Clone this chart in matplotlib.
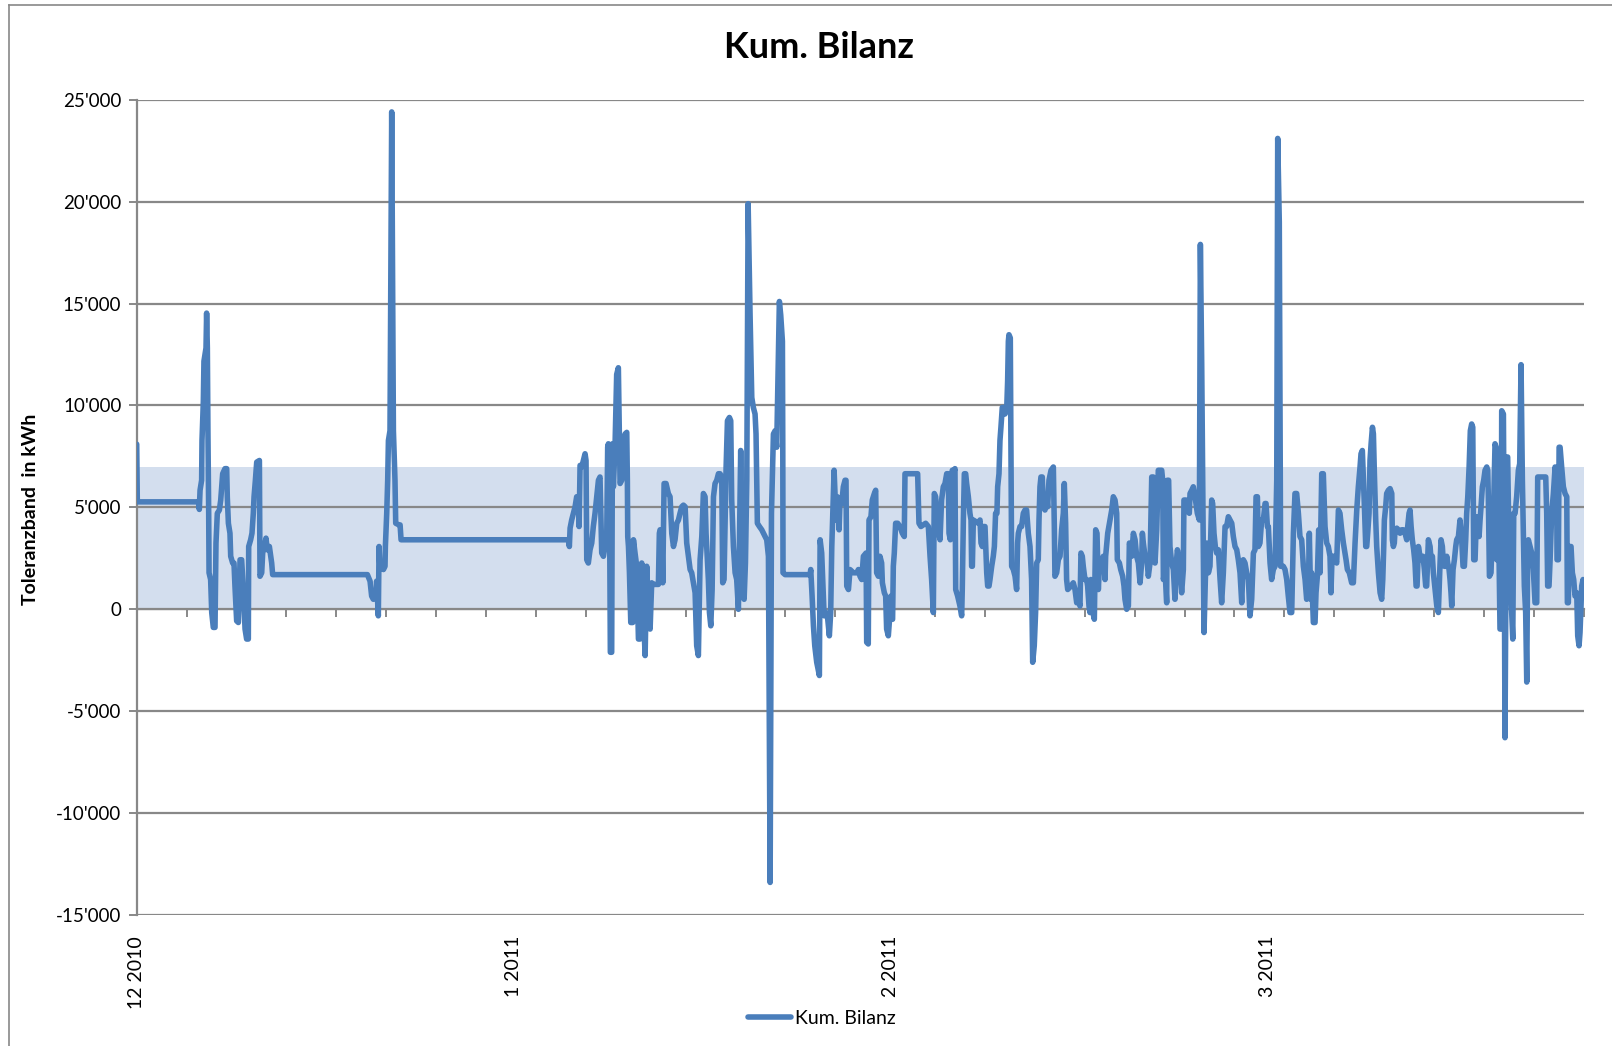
import matplotlib
matplotlib.use("Agg")
import matplotlib.pyplot as plt
from matplotlib.ticker import FuncFormatter
from matplotlib.lines import Line2D
import numpy as np

plt.rcParams['font.family'] = ['Lato', 'DejaVu Sans']

# x: Tage ab 1.12.2010 auf der Kategorienachse (Monatsbeschriftung alle 31 Tage)
tage = [
    0.00, 0.05, 5.07, 5.15, 5.21, 5.34, 5.37, 5.48, 5.53, 5.70,
    5.75, 5.81, 5.86, 5.92, 5.95, 6.08, 6.17, 6.30, 6.44, 6.52,
    6.63, 6.80, 6.91, 7.07, 7.26, 7.40, 7.45, 7.54, 7.67, 7.73,
    7.89, 8.00, 8.08, 8.22, 8.36, 8.50, 8.63, 8.77, 8.91, 9.04,
    9.18, 9.21, 9.37, 9.48, 9.59, 9.65, 9.76, 9.87, 10.09, 10.14,
    10.28, 10.36, 10.50, 10.63, 10.74, 10.91, 11.10, 11.18, 18.97, 19.19,
    19.32, 19.46, 19.68, 19.73, 19.87,
    19.93, 20.01, 20.15, 20.29, 20.42, 20.45, 20.56, 20.64, 20.70, 20.83,
    20.97, 21.11, 21.24, 21.30, 21.57, 21.66, 21.74, 35.50, 35.58, 35.64,
    35.77, 35.91, 36.05, 36.18, 36.32, 36.38, 36.46, 36.60, 36.73, 36.87,
    36.95, 37.01, 37.14, 37.28, 37.42, 37.55, 37.69, 37.83, 37.97, 38.10,
    38.24, 38.38, 38.51, 38.65, 38.73, 38.79, 38.87, 38.95, 39.06, 39.12,
    39.20, 39.34, 39.47, 39.61, 39.75,
    39.89, 39.97, 40.02, 40.16, 40.30, 40.35, 40.38, 40.44, 40.52, 40.63,
    40.79, 40.85, 40.98, 41.12, 41.26, 41.39, 41.53, 41.67, 41.81, 41.94,
    42.08, 42.22, 42.35, 42.49, 42.90, 42.98, 43.04, 43.18, 43.26, 43.37,
    43.53, 43.72, 43.86, 44.00, 44.14, 44.27, 44.41, 44.55, 44.68, 44.82,
    44.96, 45.10, 45.23, 45.37, 45.51, 45.64, 45.78, 45.92, 46.05, 46.19,
    46.33, 46.47, 46.60, 46.74, 46.82, 46.93, 47.01, 47.10, 47.21, 47.32,
    47.43, 47.56, 47.70, 47.84, 47.97, 48.11, 48.19, 48.30, 48.47, 48.58,
    48.74, 48.85, 48.93, 49.07, 49.21, 49.34, 49.48, 49.56, 49.67, 49.84,
    49.95, 50.06, 50.17, 50.28, 50.44, 50.58, 50.71, 50.85, 50.93, 51.04,
    51.21, 51.40, 51.54, 51.81, 51.95, 52.09, 52.20, 52.36, 52.50, 52.63,
    52.85, 52.96, 53.10, 53.13, 53.15, 53.32, 55.37, 55.43, 55.54, 55.65,
    55.76, 55.92, 56.14, 56.20, 56.33, 56.47, 56.53, 56.69, 56.80, 56.96,
    57.07, 57.16, 57.24, 57.35, 57.51, 57.62, 57.76, 57.84, 57.98, 58.11,
    58.25, 58.33, 58.39, 58.53, 58.66, 58.94, 59.21, 59.35, 59.48, 59.62,
    59.76, 59.98,
    60.03, 60.16, 60.22, 60.38, 60.49, 60.66, 60.77, 60.85, 60.99, 61.12,
    61.26, 61.32, 61.48, 61.59, 61.67, 61.81, 61.95, 62.03, 62.08, 62.16,
    62.22, 62.30, 62.41, 62.58, 62.77, 62.96, 63.12, 63.18, 64.22, 64.33,
    64.49, 64.69, 64.88, 65.10, 65.24, 65.37, 65.51, 65.59, 65.70, 65.78,
    65.92, 66.06, 66.19, 66.33, 66.47, 66.61, 66.74, 66.80, 66.91, 66.96,
    67.07, 67.15, 67.29, 67.35, 67.51, 67.70, 67.84, 67.89, 67.98, 68.06,
    68.17, 68.25, 68.39, 68.52, 68.61, 68.66, 68.72, 68.80, 69.21, 69.35,
    69.43, 69.54, 69.62, 69.76, 69.81, 69.90, 69.98, 70.09, 70.17, 70.31,
    70.44, 70.53, 70.63, 70.74, 70.80, 70.91, 70.99, 71.07, 71.18, 71.27,
    71.40, 71.54, 71.62, 71.68, 71.73, 71.84, 71.90, 71.95, 72.09, 72.23,
    72.36, 72.44, 72.50, 72.64, 72.77, 72.91, 73.05, 73.18, 73.32, 73.46,
    73.59, 73.68, 73.81, 73.92, 74.01, 74.14, 74.20, 74.28, 74.36, 74.47,
    74.56, 74.69, 74.83, 74.91, 75.02, 75.19, 75.38, 75.46, 75.51, 75.65,
    75.79, 75.93, 76.06, 76.20, 76.28, 76.39, 76.47, 76.56, 76.83, 77.02,
    77.16, 77.30, 77.43, 77.57, 77.65, 77.76, 77.84, 77.98, 78.12, 78.20,
    78.31, 78.39, 78.47, 78.58, 78.75, 78.86, 78.97, 79.08, 79.19, 79.35,
    79.49, 79.63, 79.68, 79.85, 80.04,
    80.18, 80.31, 80.45, 80.59, 80.64, 80.81, 80.92, 81.08, 81.19, 81.27,
    81.41, 81.55, 81.63, 81.74, 81.82, 81.96, 82.10, 82.23, 82.37, 82.51,
    82.64, 82.70, 82.78, 82.92, 83.06, 83.19, 83.33, 83.47, 83.60, 83.74,
    83.88, 84.01, 84.29, 84.37, 84.43, 84.56, 84.70, 84.75, 84.86, 84.97,
    85.11, 85.25, 85.38, 85.47, 85.58, 85.69, 85.85, 85.93, 86.07, 86.12,
    86.29, 86.40, 86.56, 86.62, 86.76, 86.89, 87.03, 87.22, 87.39, 87.47,
    87.58, 87.77, 87.88, 87.99, 88.13, 88.26, 88.40, 88.48, 88.59, 88.70,
    88.81, 88.95, 89.09, 89.22, 89.36, 89.50, 89.63, 89.77, 89.91, 90.05,
    90.18, 90.32, 90.46, 90.59, 90.73, 90.87, 91.00, 91.14, 91.28, 91.42,
    91.55, 91.69, 91.83, 91.96, 92.05, 92.16, 92.24, 92.37, 92.51, 92.65,
    92.79, 92.87, 92.98, 93.06, 93.20, 93.33, 93.47, 93.61, 93.75, 93.83,
    93.96, 94.07, 94.29, 94.43, 94.57, 94.70, 94.84, 94.98, 95.12, 95.25,
    95.39, 95.53, 95.66, 95.80, 95.94, 96.08, 96.21, 96.35, 96.43, 96.54,
    96.62, 96.76, 96.90, 96.98, 97.09, 97.20, 97.31, 97.45, 97.58, 97.72,
    97.86, 97.99, 98.13, 98.21, 98.30, 98.46, 98.68, 98.82, 98.95, 99.09,
    99.23, 99.36, 99.45, 99.56, 99.72, 99.91, 100.05, 100.19,
    100.33, 100.46, 100.60, 100.68, 100.79, 100.88, 100.96, 101.07, 101.15, 101.23,
    101.34, 101.42, 101.51, 101.62, 101.70, 101.78, 101.89, 101.97, 102.11, 102.25,
    102.38, 102.47, 102.55, 102.60, 102.71, 102.79, 102.93, 103.07, 103.21, 103.26,
    103.34, 103.42, 103.48, 103.62, 103.75, 103.89, 104.03, 104.16, 104.30, 104.44,
    104.52, 104.63, 104.71, 104.80, 104.90, 105.01, 105.12, 105.21, 105.29, 105.40,
    105.53, 105.67, 105.78, 105.89, 106.00, 106.08, 106.22, 106.36, 106.44, 106.55,
    106.63, 106.77, 106.91, 107.04, 107.18, 107.26, 107.37, 107.45, 107.54, 107.65,
    107.73, 107.81, 107.92, 108.00, 108.08, 108.14, 108.25, 108.36, 108.47, 108.55,
    108.69, 108.82, 108.96, 109.07, 109.18, 109.29, 109.37, 109.46, 109.57, 109.67,
    109.78, 109.87, 109.95, 110.06, 110.17, 110.28, 110.39, 110.47, 110.55, 110.66,
    110.77, 110.88, 111.02, 111.10, 111.15, 111.24, 111.37, 111.48, 111.57, 111.65,
    111.70, 111.79, 111.84, 111.92, 111.98, 112.03, 112.11, 112.20, 112.25, 112.39,
    112.47, 112.52, 112.66, 112.74, 112.85, 113.02, 113.16, 113.24, 113.35, 113.48,
    113.62, 113.73, 113.84, 113.95, 114.11, 114.22, 114.31, 114.39, 114.44, 114.58,
    114.72, 114.85, 114.99, 115.13, 115.21, 115.87, 115.95, 116.03, 116.14, 116.23,
    116.36, 116.50, 116.64, 116.77, 116.80, 116.91, 116.97, 117.05, 117.18, 117.32,
    117.46, 117.60, 117.65, 117.73, 117.79, 117.95, 118.06, 118.17, 118.28, 118.42,
    118.50, 118.61, 118.69, 118.83, 118.94, 119.00,
]

# kumulierte Bilanz in kWh
kwh = [
    8100, 5270, 5270, 4900, 5840, 6330, 8280, 10200, 12170, 12820,
    14530, 12820, 8600, 4710, 1790, 1460, -160, -890, -890, 3250,
    4710, 4870, 5360, 6650, 6900, 6900, 5520, 4220, 3730, 2600,
    2270, 2270, 1140, -570, -650, 2430, 2430, 970, -970, -1460,
    -1460, 3080, 3410, 3730, 4710, 5520, 6330, 7220, 7300, 1620,
    1790, 2760, 3080, 3490, 2920, 3080, 2270, 1700, 1700, 1380,
    650, 490, 570, 1380, -320,
    3080, 1950, 2110, 1950, 2110, 3080, 4710, 6330, 8280, 8760,
    24400, 8760, 6330, 4220, 4140, 4140, 3410, 3410, 3080, 3980,
    4380, 4710, 5030, 5520, 5360, 4060, 7060, 6980, 7300, 7630,
    7300, 2430, 2270, 2920, 3250, 4060, 4710, 5520, 6330, 6490,
    2760, 2600, 3080, 3410, 7950, 8120, 6330, -2110, -2110, 8120,
    6010, 8120, 11520, 11850, 6170,
    6330, 7950, 8280, 8600, 8680, 6330, 3570, 3080, 1790, -650,
    -650, 3410, 2760, 2110, -1460, -1460, 2270, -160, -2270, 2110,
    -160, -970, 1300, 1220, 1220, 3730, 3900, 3730, 1300, 6170,
    6170, 5680, 5520, 3730, 3080, 3410, 4220, 4380, 4710, 5030,
    5110, 5030, 3250, 2600, 1950, 1790, 1300, 810, -1790, -2270,
    2430, 3570, 5680, 5520, 3730, 2430, 1460, -160, -810, 970,
    5520, 6170, 6330, 6650, 6650, 6490, 1300, 1460, 6980, 9250,
    9410, 9250, 5360, 3080, 1790, 1460, 0, 3080, 7790, 650,
    490, 2270, 6330, 19900, 14440, 10390, 9900, 9580, 8600, 4220,
    4060, 3900, 3730, 3410, 2600, -13400, 4710, 8600, 8760, 7950,
    15100, 14440, 13150, 7950, 1790, 1700, 1700, 1950, 650, -810,
    -1790, -2600, -3250, 3410, 2760, 650, -320, -160, -320, -1300,
    -160, 3080, 4710, 6820, 4380, 5520, 3900, 5360, 5190, 6010,
    6330, 6330, 1140, 970, 1950, 1790, 1790, 1950, 1620, 1460,
    2600, 2760,
    -1620, -1700, 4380, 4540, 5360, 5680, 5840, 1790, 1620, 2600,
    2270, 1300, 810, 650, -970, -1300, -160, 650, -490, -490,
    2110, 2760, 4220, 4220, 4060, 3730, 3570, 6650, 6650, 4220,
    4060, 4140, 4220, 4060, 2600, 1460, -160, 5680, 5520, 4710,
    3900, 3410, 5360, 6010, 6170, 6650, 6650, 3730, 3410, 6330,
    6820, 6650, 6900, 970, 650, 160, -320, 970, 4380, 6650,
    6650, 6170, 5520, 4710, 4380, 2110, 2110, 4380, 4220, 4380,
    3250, 3080, 4060, 4060, 3250, 1790, 1140, 1140, 1460, 2110,
    2600, 3080, 4710, 4710, 6010, 6650, 8280, 8930, 9900, 9900,
    9580, 9740, 11200, 13150, 13470, 13310, 7140, 2110, 1950, 1620,
    970, 3250, 3730, 4060, 4060, 4710, 4870, 4870, 3730, 3080,
    1460, -2600, -1790, -160, 2270, 2430, 4380, 6010, 6490, 6490,
    5030, 4870, 5520, 5030, 6330, 6820, 6980, 4060, 1620, 1790,
    2430, 2600, 3900, 4710, 6170, 4220, 1460, 970, 1140, 1300,
    970, 320, 490, 160, 2760, 2600, 2110, 1460, 1460, 1140,
    160, -160, 1460, 0, -490, 3900, 3730, 970, 2430, 2430,
    2600, 1460, 2600, 3730, 4380,
    4870, 5520, 5360, 4710, 2430, 2270, 1950, 1620, 1140, 490,
    0, 160, 3250, 3080, 2600, 3730, 3410, 2600, 2270, 1300,
    2270, 3730, 3250, 2600, 2600, 1620, 2270, 6490, 6490, 2270,
    3900, 6820, 6820, 6330, 1460, 1950, 320, 6330, 6330, 3080,
    2270, 1950, 490, 2110, 2920, 2600, 1460, 810, 1950, 5360,
    5360, 4870, 4710, 5680, 5840, 6010, 5520, 4710, 4380, 17900,
    12000, -1140, 1460, 3250, 1790, 2110, 5360, 5190, 3730, 3080,
    2760, 2920, 1460, 320, 1790, 4060, 4060, 4540, 4380, 4220,
    3570, 3080, 2920, 2430, 1790, 320, 2430, 2270, 1790, 1460,
    -320, 490, 2760, 2920, 5520, 5520, 3080, 3250, 4380, 4380,
    5190, 5190, 4060, 4060, 2270, 1460, 1950, 2110, 6330, 23100,
    19000, 2110, 2110, 1950, 1460, 650, -160, -160, 3730, 5680,
    5680, 4710, 3570, 3410, 2110, 1460, 490, 970, 3730, 490,
    1790, -650, -650, 810, 1620, 3900, 1790, 6650, 6650, 4060,
    3250, 3080, 2600, 810, 2600, 2600, 2270, 4870, 4710, 3900,
    3250, 2760, 2430, 1950, 1790, 1300, 1300, 3250,
    4870, 6010, 6980, 7630, 7790, 6330, 5030, 3080, 3080, 3730,
    4710, 7300, 8120, 8930, 8600, 6650, 4380, 3080, 1790, 810,
    490, 1460, 3080, 4380, 5030, 5680, 5840, 5920, 5680, 3410,
    3080, 3250, 3900, 3980, 3900, 3730, 3900, 3900, 3730, 3410,
    4060, 4710, 4870, 4060, 3410, 2920, 2270, 1140, 1140, 3080,
    2600, 2430, 2600, 1950, 1140, 1140, 3410, 3080, 2430, 2600,
    1790, 970, 160, -160, 2270, 3410, 3080, 2270, 2110, 2110,
    2600, 2270, 1950, 1460, 810, 160, 1950, 2430, 3080, 3410,
    3570, 4380, 3410, 2110, 2110, 3410, 4710, 5520, 6980, 8760,
    9090, 8930, 2430, 2430, 4540, 4380, 3570, 4380, 5030, 6010,
    6330, 6820, 6980, 6820, 5520, 1620, 1790, 3900, 4540, 6650,
    8120, 7950, 2430, 2760, 6820, 2600, -970, -970, 9740, 9580,
    1460, -6300, 7470, 7470, 3080, 650, -1460, 4710, 4710, 5520,
    6820, 7140, 12000, 6330, 1140, -160, -3570, 3080, 3410, 3080,
    2760, 1950, 320, 320, 6490, 6490, 4710, 1140, 1140, 2430,
    4710, 5680, 6980, 6330, 2430, 2430, 7950, 7950, 6980, 6010,
    5680, 5520, 320, 320, 3080, 3080, 1790, 1460, 650, 810,
    -1300, -1790, -1140, 1140, 1460, 900,
]

monat_pos = [0, 31, 62, 93]
monat_labels = ["12 2010", "1 2011", "2 2011", "3 2011"]
y_ticks = [-15000, -10000, -5000, 0, 5000, 10000, 15000, 20000, 25000]
band_unten, band_oben = 0, 7000
x_ende = 119.0

blau = '#4a7ebb'
grau = '#888888'

fig = plt.figure(figsize=(16.12, 10.46), dpi=100)
ax = fig.add_axes([0.0848, 0.1252, 0.8977, 0.7795])

ax.axhspan(band_unten, band_oben, color='#d3deee', lw=0, zorder=0.5)
linie, = ax.plot(tage, kwh, color=blau, lw=4.0, solid_joinstyle='round',
                 solid_capstyle='round', zorder=3, label='Kum. Bilanz')

ax.set_xlim(0, x_ende)
ax.set_ylim(y_ticks[0], y_ticks[-1])
ax.set_yticks(y_ticks)
ax.yaxis.set_major_formatter(FuncFormatter(lambda v, p: f"{int(v):,}".replace(",", "'")))
ax.grid(axis='y', color=grau, lw=1.6)
ax.tick_params(axis='y', direction='out', length=6, width=1.4, color=grau,
               labelsize=13.5, pad=5)

ax.set_xticks(monat_pos, monat_labels, rotation=90)
ax.tick_params(axis='x', length=0, labelsize=14, pad=15)

for s in ['top', 'right', 'bottom']:
    ax.spines[s].set_visible(False)
ax.spines['left'].set_color(grau)
ax.spines['left'].set_linewidth(1.6)

# Teilstriche auf der Nulllinie
null_pos = (0 - y_ticks[0]) / (y_ticks[-1] - y_ticks[0])
sek = ax.secondary_xaxis(null_pos)
sek.set_xticks(np.linspace(0, x_ende, 30))
sek.tick_params(direction='out', length=6, width=1.4, color=grau,
                labelbottom=False, labeltop=False)
for s in sek.spines.values():
    s.set_color(grau)
    s.set_linewidth(1.6)

# Rahmen
fig.add_artist(Line2D([9 / 1612, 9 / 1612], [0, 1 - 5 / 1046],
                      transform=fig.transFigure, color=grau, lw=1.2))
fig.add_artist(Line2D([9 / 1612, 1], [1 - 5 / 1046, 1 - 5 / 1046],
                      transform=fig.transFigure, color=grau, lw=1.2))

fig.text(0.508, 1 - 48 / 1046, "Kum. Bilanz", ha='center', va='center',
         fontsize=26, fontweight='bold')
fig.text(31 / 1612, 0.513, "Toleranzband  in kWh", rotation=90, ha='center',
         va='center', fontsize=14, fontweight='bold')

fig.legend(handles=[linie], loc='center', bbox_to_anchor=(0.51, 0.026),
           frameon=False, fontsize=14, handlelength=2.2, handletextpad=0.2)

fig.savefig('out.png', dpi=100)
